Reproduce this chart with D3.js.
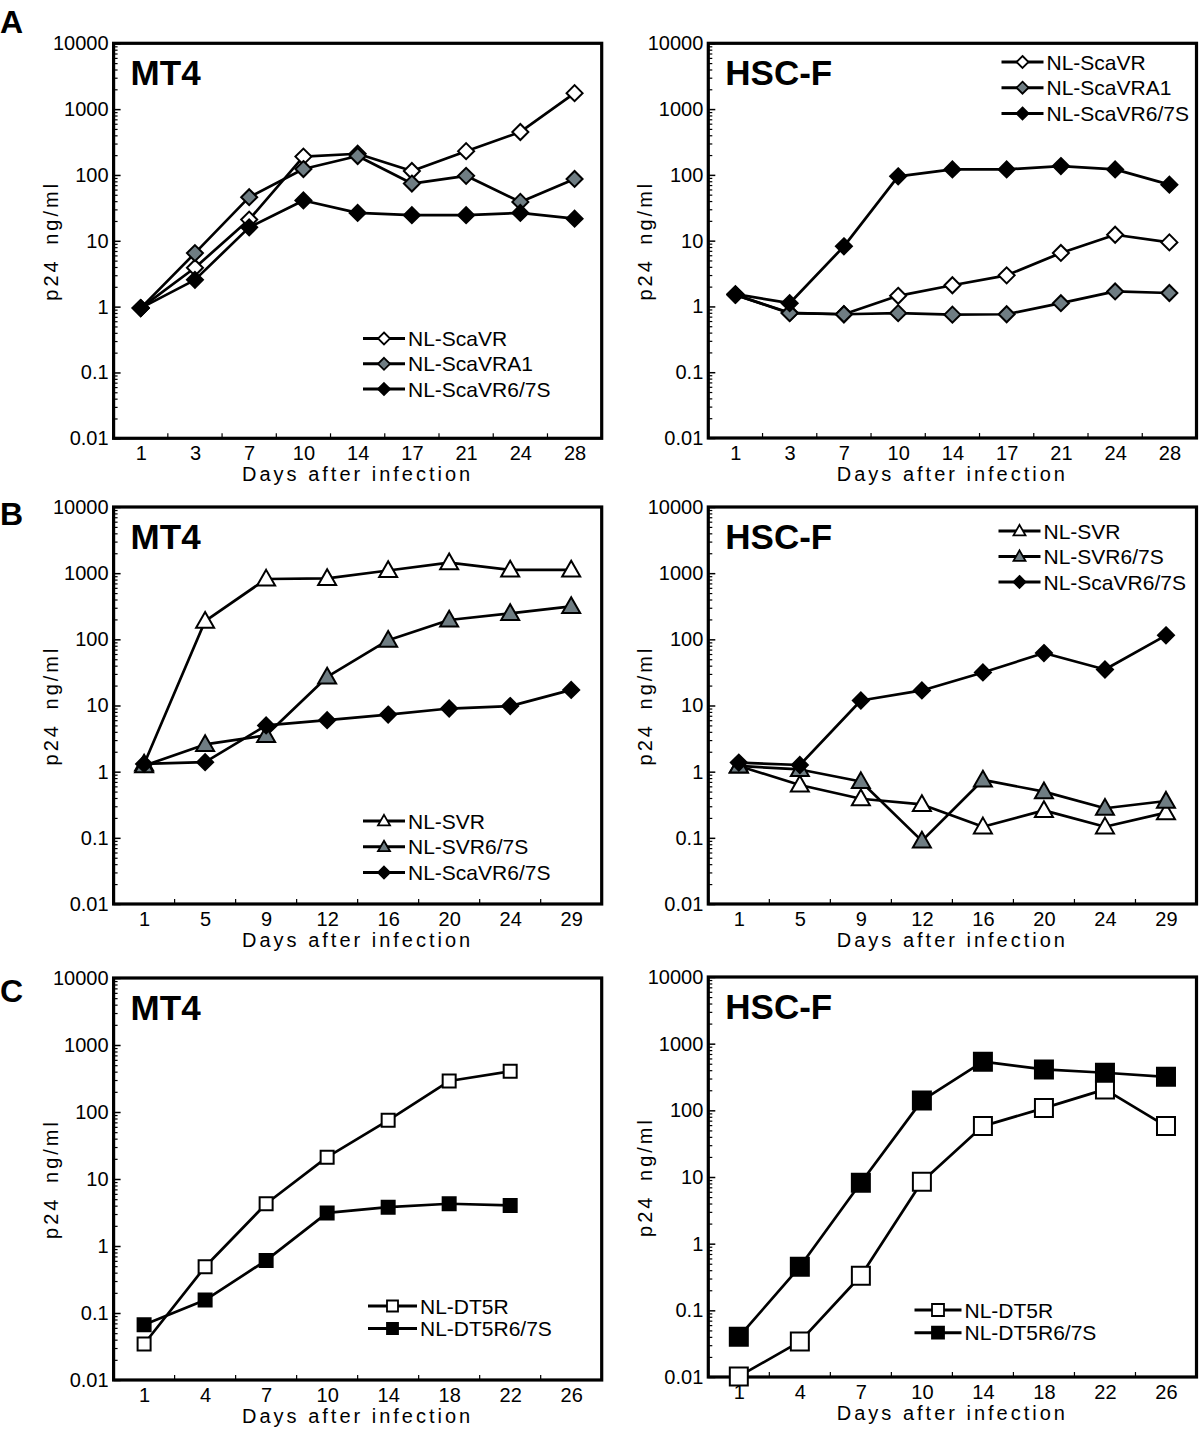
<!DOCTYPE html>
<html><head><meta charset="utf-8">
<script src="https://cdn.jsdelivr.net/npm/d3@7"></script>
<style>
body{margin:0;background:#fff;}
svg{display:block;}
text{font-family:"Liberation Sans",Arial,Helvetica,sans-serif;fill:#000;}
</style>
</head><body>
<svg id="c" width="1200" height="1438"></svg>
<script>
// ---------- data ----------
const daysA = ["1","3","7","10","14","17","21","24","28"];
const daysB = ["1","5","9","12","16","20","24","29"];
const daysC = ["1","4","7","10","14","18","22","26"];
const yTickValues = [0.01,0.1,1,10,100,1000,10000];
const yTickLabels = ["0.01","0.1","1","10","100","1000","10000"];

// Row A
const aMT4_ScaVR    = [0.95,3.9,21,190,210,115,230,450,1750];
const aMT4_ScaVRA1  = [0.95,6.5,46,123,194,74,97,39,87];
const aMT4_ScaVR67S = [0.95,2.55,16,41,26.5,24.5,24.5,26.5,21.7];
const aHSC_ScaVR    = [1.5,0.8,0.76,1.45,2.1,2.97,6.5,12.3,9.4];
const aHSC_ScaVRA1  = [1.5,0.79,0.76,0.79,0.75,0.76,1.12,1.69,1.6];
const aHSC_ScaVR67S = [1.54,1.12,8.2,95,121,121,136,121,71];
// Row B
const bMT4_SVR      = [1.31,189,816,836,1098,1440,1120,1120];
const bMT4_SVR67S   = [1.23,2.58,3.54,27,97,196,247,314];
const bMT4_ScaVR67S = [1.31,1.39,5.0,6.0,7.3,9.0,9.8,17.2];
const bHSC_SVR      = [1.22,0.63,0.39,0.32,0.147,0.26,0.147,0.24];
const bHSC_SVR67S   = [1.22,1.08,0.71,0.09,0.75,0.5,0.28,0.36];
const bHSC_ScaVR67S = [1.37,1.26,11.9,16.9,31.6,62,35,115];
// Row C
const cMT4_DT5R     = [0.0345,0.49,4.27,21.2,75,290,405];
const cMT4_DT5R67S  = [0.067,0.156,0.61,3.12,3.8,4.27,4.03];
const cHSC_DT5R     = [0.0102,0.034,0.33,8.5,58,108,206,58];
const cHSC_DT5R67S  = [0.040,0.45,8.2,140,537,411,366,318];

const namesA = ["NL-ScaVR","NL-ScaVRA1","NL-ScaVR6/7S"];
const namesB = ["NL-SVR","NL-SVR6/7S","NL-ScaVR6/7S"];
const namesC = ["NL-DT5R","NL-DT5R6/7S"];

// ---------- drawing ----------
const svg = d3.select("#c");
const GRAY = "#6f7d83";

function markerPath(shape, s) {
  if (shape === "diamond") return `M0,${-s}L${s},0L0,${s}L${-s},0Z`;
  if (shape === "triangle") { const h = s*1.75; return `M0,${-h*0.58}L${s},${h*0.42}L${-s},${h*0.42}Z`; }
  if (shape === "square") return `M${-s/2},${-s/2}h${s}v${s}h${-s}Z`;
}

function panel(cfg) {
  const {x0, x1, y0, y1, days, series, title, legend} = cfg;
  const g = svg.append("g");
  const x = d3.scalePoint().domain(days).range([x0, x1]).padding(0.5);
  const y = d3.scaleLog().domain([0.01, 10000]).range([y1, y0]);

  const all = y.ticks();
  const isMajor = v => Math.abs(Math.log10(v) - Math.round(Math.log10(v))) < 1e-9;
  g.append("g").attr("transform", `translate(${x0},0)`)
    .call(d3.axisRight(y).tickValues(all.filter(v => !isMajor(v))).tickSize(4).tickFormat(""))
    .call(a => a.select(".domain").remove())
    .selectAll("line").attr("stroke", "#000").attr("stroke-width", 1.2);
  g.append("g").attr("transform", `translate(${x0},0)`)
    .call(d3.axisRight(y).tickValues(yTickValues).tickSize(7).tickFormat(""))
    .call(a => a.select(".domain").remove())
    .selectAll("line").attr("stroke", "#000").attr("stroke-width", 1.5);
  g.append("g").attr("transform", `translate(${x0},0)`)
    .call(d3.axisLeft(y).tickValues(yTickValues).tickSize(0).tickPadding(5)
      .tickFormat((d, i) => yTickLabels[i]))
    .call(a => a.select(".domain").remove())
    .selectAll("text").attr("font-size", 20).attr("font-family", "Liberation Sans, Arial, sans-serif").attr("fill", "#000");

  g.append("g").attr("transform", `translate(0,${y1})`)
    .call(d3.axisBottom(x).tickSize(0).tickPadding(8))
    .call(a => a.select(".domain").remove())
    .selectAll("text").attr("font-size", 20).attr("font-family", "Liberation Sans, Arial, sans-serif").attr("fill", "#000");
  const mids = days.slice(0, -1).map((d, i) => (x(d) + x(days[i+1])) / 2);
  g.selectAll(".xm").data(mids).enter().append("line")
    .attr("x1", d => d).attr("x2", d => d).attr("y1", y1).attr("y2", y1 - 5)
    .attr("stroke", "#000").attr("stroke-width", 1.2);

  g.append("rect").attr("x", x0).attr("y", y0).attr("width", x1 - x0).attr("height", y1 - y0)
    .attr("fill", "none").attr("stroke", "#000").attr("stroke-width", 3.2);

  const line = d3.line().x(d => x(d.day)).y(d => y(d.v));
  series.forEach(s => {
    const pts = s.values.map((v, i) => ({day: days[i], v}));
    s.pts = pts;
    g.append("path").attr("d", line(pts)).attr("fill", "none")
      .attr("stroke", "#000").attr("stroke-width", 2.7).attr("stroke-linejoin", "round");
  });
  series.forEach(s => {
    g.selectAll(null).data(s.pts).enter().append("path")
      .attr("transform", d => `translate(${x(d.day)},${y(d.v)})`)
      .attr("d", markerPath(s.shape, s.size))
      .attr("fill", s.fill).attr("stroke", "#000").attr("stroke-width", 2).attr("stroke-linejoin", "miter");
  });

  g.append("text").attr("x", x0 + 17).attr("y", y0 + 42).attr("font-size", 35)
    .attr("font-weight", "bold").text(title);

  g.append("text").attr("x", (x0 + x1) / 2).attr("y", y1 + 43).attr("text-anchor", "middle")
    .attr("font-size", 20).attr("letter-spacing", "3px").text("Days after infection");
  g.append("text").attr("transform", `translate(${x0 - 56},${(y0 + y1) / 2}) rotate(-90)`)
    .attr("text-anchor", "middle").attr("font-size", 20).attr("letter-spacing", "3px")
    .attr("word-spacing", "5px").text("p24 ng/ml");

  const L = legend;
  series.forEach((s, i) => {
    const yy = L.y + i * L.dy;
    g.append("line").attr("x1", L.x).attr("x2", L.x + L.w).attr("y1", yy).attr("y2", yy)
      .attr("stroke", "#000").attr("stroke-width", 3);
    g.append("path").attr("transform", `translate(${L.x + L.w / 2},${yy})`)
      .attr("d", markerPath(s.shape, s.lsize)).attr("fill", s.fill)
      .attr("stroke", "#000").attr("stroke-width", 1.8);
    g.append("text").attr("x", L.x + L.w + 3).attr("y", yy).attr("dy", "0.36em")
      .attr("font-size", 21).text(s.name);
  });
}

const LX = 113.6, RX = 601.7, LX2 = 708.3, RX2 = 1196.5;

panel({x0: LX, x1: RX, y0: 43.3, y1: 438.3, days: daysA, title: "MT4",
  series: [
    {name: namesA[0], values: aMT4_ScaVR, shape: "diamond", fill: "#fff", size: 8, lsize: 6},
    {name: namesA[1], values: aMT4_ScaVRA1, shape: "diamond", fill: GRAY, size: 8, lsize: 6},
    {name: namesA[2], values: aMT4_ScaVR67S, shape: "diamond", fill: "#000", size: 8, lsize: 6}],
  legend: {x: 363, y: 338.5, dy: 25.3, w: 42}});
panel({x0: LX2, x1: RX2, y0: 43.3, y1: 438, days: daysA, title: "HSC-F",
  series: [
    {name: namesA[0], values: aHSC_ScaVR, shape: "diamond", fill: "#fff", size: 8, lsize: 6},
    {name: namesA[1], values: aHSC_ScaVRA1, shape: "diamond", fill: GRAY, size: 8, lsize: 6},
    {name: namesA[2], values: aHSC_ScaVR67S, shape: "diamond", fill: "#000", size: 8, lsize: 6}],
  legend: {x: 1001.5, y: 62, dy: 25.7, w: 42}});

panel({x0: LX, x1: RX, y0: 507, y1: 904, days: daysB, title: "MT4",
  series: [
    {name: namesB[0], values: bMT4_SVR, shape: "triangle", fill: "#fff", size: 9, lsize: 6},
    {name: namesB[1], values: bMT4_SVR67S, shape: "triangle", fill: GRAY, size: 9, lsize: 6},
    {name: namesB[2], values: bMT4_ScaVR67S, shape: "diamond", fill: "#000", size: 8, lsize: 6}],
  legend: {x: 363, y: 821, dy: 25.8, w: 42}});
panel({x0: LX2, x1: RX2, y0: 507, y1: 904, days: daysB, title: "HSC-F",
  series: [
    {name: namesB[0], values: bHSC_SVR, shape: "triangle", fill: "#fff", size: 9, lsize: 6},
    {name: namesB[1], values: bHSC_SVR67S, shape: "triangle", fill: GRAY, size: 9, lsize: 6},
    {name: namesB[2], values: bHSC_ScaVR67S, shape: "diamond", fill: "#000", size: 8, lsize: 6}],
  legend: {x: 998.5, y: 531, dy: 25.5, w: 42}});

panel({x0: LX, x1: RX, y0: 978, y1: 1380, days: daysC, title: "MT4",
  series: [
    {name: namesC[0], values: cMT4_DT5R, shape: "square", fill: "#fff", size: 13, lsize: 11},
    {name: namesC[1], values: cMT4_DT5R67S, shape: "square", fill: "#000", size: 13, lsize: 11}],
  legend: {x: 368, y: 1306, dy: 22.5, w: 49}});
panel({x0: LX2, x1: RX2, y0: 977, y1: 1377, days: daysC, title: "HSC-F",
  series: [
    {name: namesC[0], values: cHSC_DT5R, shape: "square", fill: "#fff", size: 18, lsize: 12},
    {name: namesC[1], values: cHSC_DT5R67S, shape: "square", fill: "#000", size: 18, lsize: 12}],
  legend: {x: 914.5, y: 1310, dy: 22.7, w: 47}});

[["A", 0, 33], ["B", 0, 525], ["C", 0, 1002]].forEach(([t, xx, yy]) => {
  svg.append("text").attr("x", xx).attr("y", yy).attr("font-size", 32)
    .attr("font-weight", "900").text(t);
});
</script>
</body></html>
